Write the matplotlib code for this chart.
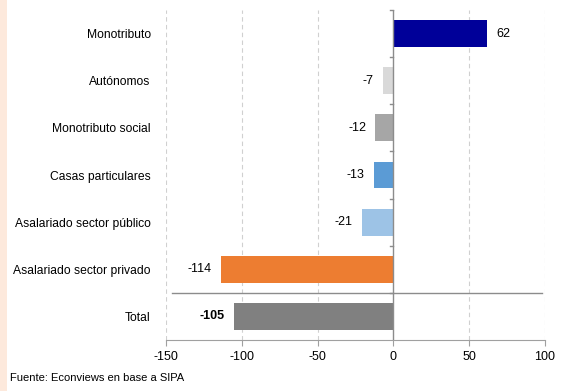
import matplotlib.pyplot as plt
from matplotlib.patches import Rectangle

categorias = ["Monotributo", "Autónomos", "Monotributo social", "Casas particulares",
              "Asalariado sector público", "Asalariado sector privado", "Total"]
valores = [62, -7, -12, -13, -21, -114, -105]
colores = ["#000099", "#D9D9D9", "#A6A6A6", "#5B9BD5", "#9DC3E6", "#ED7D31", "#808080"]
ticks_x = [-150, -100, -50, 0, 50, 100]

plt.rcParams['font.family'] = ['Liberation Sans', 'DejaVu Sans']

fig = plt.figure(figsize=(5.72, 3.91), dpi=100)
ax = fig.add_axes([166 / 572, 1 - 340 / 391, 379 / 572, 330 / 391])

# franja lateral
fig.patches.append(Rectangle((0, 0), 7 / 572, 1, transform=fig.transFigure,
                             facecolor="#FDE9DC", edgecolor="none", zorder=0))

pos = list(range(len(categorias)))
ax.barh(pos, valores, height=0.57, color=colores, zorder=3)

for p, v in zip(pos, valores):
    es_total = categorias[p] == "Total"
    if v >= 0:
        ax.text(v + 6, p, f"{v}", va="center", ha="left", fontsize=9)
    else:
        ax.text(v - 6, p, f"{v}", va="center", ha="right", fontsize=9,
                fontweight="bold" if es_total else "normal")

ax.set_xlim(-150, 100)
ax.set_ylim(len(categorias) - 0.5, -0.5)
ax.set_xticks(ticks_x)
ax.set_xticklabels([str(t) for t in ticks_x], fontsize=9)
ax.set_yticks(pos)
ax.set_yticklabels(categorias, fontsize=8.7)
ax.tick_params(axis="y", length=0, pad=11)
ax.tick_params(axis="x", color="#A0A0A0", length=4, pad=4)

for t in ticks_x:
    if t != 0:
        ax.axvline(t, color="#D0D0D0", lw=0.8, ls=(0, (4, 3)), zorder=1)
ax.axvline(0, color="#8C8C8C", lw=1, zorder=4)

# marcas del eje vertical en el cero
for b in range(len(categorias)):
    ax.plot([-2, 0], [b - 0.5, b - 0.5], color="#8C8C8C", lw=1, zorder=4, clip_on=False)

# separador antes del total
ax.plot([-146, 98], [5.5, 5.5], color="#8C8C8C", lw=1, zorder=4, clip_on=False)

for lado in ["top", "right", "left"]:
    ax.spines[lado].set_visible(False)
ax.spines["bottom"].set_color("#A0A0A0")

fig.text(10 / 572, 1 - 378 / 391, "Fuente: Econviews en base a SIPA", fontsize=8, va="center")

fig.savefig("out.png", dpi=100)
